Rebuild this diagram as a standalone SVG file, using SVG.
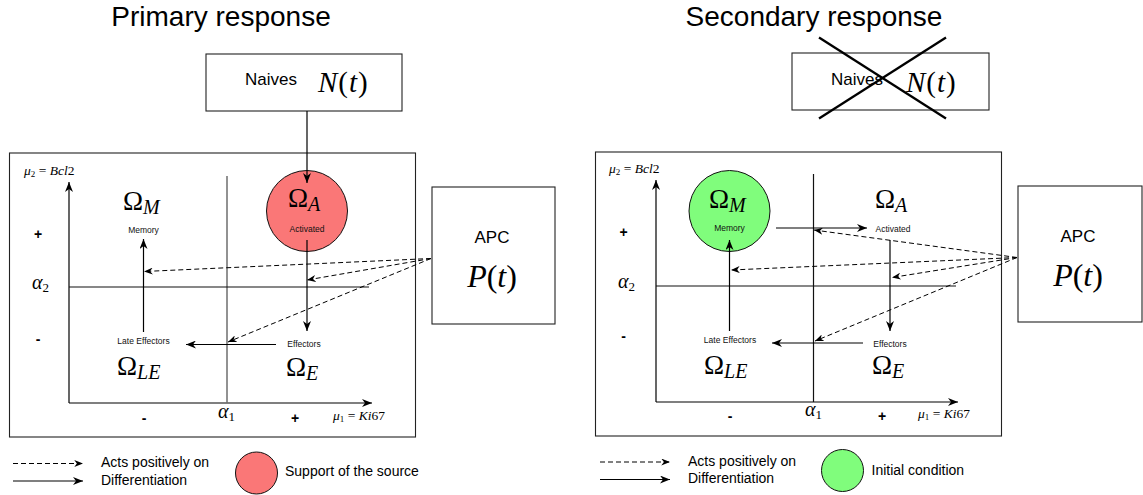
<svg xmlns="http://www.w3.org/2000/svg" width="1143" height="495" viewBox="0 0 1143 495">
  <defs>
    <marker id="ah" viewBox="0 0 10 8" refX="10" refY="4" markerWidth="10" markerHeight="8" markerUnits="userSpaceOnUse" orient="auto">
      <path d="M0,0 L10,4 L0,8 L3,4 Z" fill="#000"/>
    </marker>
    <marker id="ahs" viewBox="0 0 10 8" refX="10" refY="4" markerWidth="9" markerHeight="7" markerUnits="userSpaceOnUse" orient="auto">
      <path d="M0,0 L10,4 L0,8 L3,4 Z" fill="#000"/>
    </marker>
  </defs>
  <style>
    .box { fill: #fff; stroke: #222; stroke-width: 1.1; }
    .frame { fill: none; stroke: #222; stroke-width: 1.1; }
    .ln { stroke: #111; stroke-width: 1.2; fill: none; }
    .gr { stroke: #6e6e6e; stroke-width: 1.5; fill: none; }
    .arr { stroke: #000; stroke-width: 1.2; fill: none; marker-end: url(#ah); }
    .dash { stroke: #000; stroke-width: 1; fill: none; stroke-dasharray: 5 3; marker-end: url(#ahs); }
    .title { font-family: "Liberation Sans", Arial, sans-serif; font-size: 28px; fill: #000; text-anchor: middle; }
    .sans { font-family: "Liberation Sans", Arial, sans-serif; fill: #000; }
    .lbl { font-family: "Liberation Sans", Arial, sans-serif; font-size: 8.5px; fill: #111; text-anchor: middle; }
    .sign { font-family: "Liberation Sans", Arial, sans-serif; font-size: 14px; font-weight: bold; fill: #000; text-anchor: middle; }
    .m { font-family: "Liberation Serif", "Times New Roman", serif; fill: #000; }
    .it { font-style: italic; }
    .om { font-family: "Liberation Serif", "Times New Roman", serif; font-size: 27px; fill: #000; }
    .sub { font-style: italic; font-size: 20px; }
    .red { fill: #fa7777; stroke: #111; stroke-width: 1; }
    .green { fill: #80fd7c; stroke: #111; stroke-width: 1; }
  </style>

  <!-- headings -->
  <text class="title" x="221" y="26">Primary response</text>
  <text class="title" x="814" y="26">Secondary response</text>

  <!-- ===================== primary response ===================== -->
  <g id="primary-frame">
    <rect class="frame" x="9.5" y="153" width="406" height="284"/>
  </g>

  <g id="primary-axes">
    <line class="arr" x1="69" y1="403" x2="69" y2="182"/>
    <line class="arr" x1="69" y1="403" x2="372" y2="403"/>
    <line class="gr" x1="227" y1="176" x2="227" y2="403"/>
    <line class="ln" x1="69" y1="287" x2="369" y2="287"/>
    <text class="m it" x="24" y="175" font-size="13.5">μ<tspan font-size="9" dy="2" font-style="normal">2</tspan><tspan dy="-2" font-style="normal"> = </tspan>Bcl<tspan font-style="normal">2</tspan></text>
    <text class="m it" x="333" y="420" font-size="13.5">μ<tspan font-size="9" dy="2" font-style="normal">1</tspan><tspan dy="-2" font-style="normal"> = </tspan>Ki<tspan font-style="normal">67</tspan></text>
    <text class="sign" x="38" y="239">+</text>
    <text class="sign" x="38" y="344">-</text>
    <text class="sign" x="144" y="423">-</text>
    <text class="sign" x="295" y="423">+</text>
    <text class="m it" x="32" y="289" font-size="20">α<tspan font-size="13" dy="3" font-style="normal">2</tspan></text>
    <text class="m it" x="218" y="418" font-size="20">α<tspan font-size="13" dy="3" font-style="normal">1</tspan></text>
  </g>

  <g id="p-naives">
    <rect class="box" x="206" y="54" width="196" height="57"/>
    <text class="sans" x="245" y="85" font-size="17">Naives</text>
    <text class="m" x="318" y="92" font-size="29"><tspan class="it">N</tspan><tspan dx="1">(</tspan><tspan class="it" dx="1">t</tspan><tspan dx="1">)</tspan></text>
  </g>

  <g id="p-activated">
    <circle class="red" cx="307" cy="211" r="40.5"/>
    <text class="om" x="288" y="207">Ω<tspan class="sub" dy="4">A</tspan></text>
    <text class="lbl" x="307" y="231.5">Activated</text>
  </g>

  <g id="p-memory">
    <text class="om" x="123" y="210">Ω<tspan class="sub" dy="4">M</tspan></text>
    <text class="lbl" x="143.5" y="232.5">Memory</text>
  </g>

  <g id="p-effectors">
    <text class="lbl" x="304" y="347">Effectors</text>
    <text class="om" x="286" y="376">Ω<tspan class="sub" dy="4">E</tspan></text>
  </g>

  <g id="p-late-effectors">
    <text class="lbl" x="143.5" y="344">Late Effectors</text>
    <text class="om" x="117" y="375">Ω<tspan class="sub" dy="4">LE</tspan></text>
  </g>

  <g id="p-apc">
    <rect class="box" x="432" y="187" width="123" height="137"/>
    <text class="sans" x="492" y="242.5" font-size="17" text-anchor="middle">APC</text>
    <text class="m" x="492" y="287" font-size="32" text-anchor="middle"><tspan class="it">P</tspan>(<tspan class="it">t</tspan>)</text>
  </g>

  <g id="p-connectors">
    <line class="arr" x1="307" y1="111" x2="307" y2="183"/>
    <line class="arr" x1="307" y1="240" x2="307" y2="331"/>
    <line class="arr" x1="276" y1="344.5" x2="186" y2="344.5"/>
    <line class="arr" x1="143.5" y1="332" x2="143.5" y2="239"/>
    <line class="dash" x1="431" y1="258.5" x2="144" y2="271.5"/>
    <line class="dash" x1="431" y1="258.5" x2="307" y2="280"/>
    <line class="dash" x1="431" y1="258.5" x2="228" y2="342"/>
  </g>

  <g id="p-legend">
    <line class="dash" x1="13" y1="463.5" x2="83" y2="463.5" stroke-dasharray="5 4"/>
    <line class="arr" x1="13" y1="481" x2="83" y2="481"/>
    <text class="sans" x="101" y="467" font-size="14">Acts positively on</text>
    <text class="sans" x="101" y="484.5" font-size="14">Differentiation</text>
    <circle class="red" cx="256.5" cy="473" r="21"/>
    <text class="sans" x="285" y="476" font-size="14">Support of the source</text>
  </g>

  <!-- ===================== secondary response ===================== -->
  <g id="secondary-frame">
    <rect class="frame" x="595.5" y="152" width="406" height="284"/>
  </g>

  <g id="secondary-axes">
    <line class="arr" x1="656" y1="402" x2="656" y2="180"/>
    <line class="arr" x1="656" y1="402" x2="958" y2="402"/>
    <line class="ln" x1="813.5" y1="174" x2="813.5" y2="402"/>
    <line class="ln" x1="656" y1="286" x2="956" y2="286"/>
    <text class="m it" x="609" y="173" font-size="13.5">μ<tspan font-size="9" dy="2" font-style="normal">2</tspan><tspan dy="-2" font-style="normal"> = </tspan>Bcl<tspan font-style="normal">2</tspan></text>
    <text class="m it" x="918" y="418" font-size="13.5">μ<tspan font-size="9" dy="2" font-style="normal">1</tspan><tspan dy="-2" font-style="normal"> = </tspan>Ki<tspan font-style="normal">67</tspan></text>
    <text class="sign" x="623.5" y="237">+</text>
    <text class="sign" x="623.5" y="341">-</text>
    <text class="sign" x="730" y="421">-</text>
    <text class="sign" x="882" y="421">+</text>
    <text class="m it" x="618" y="288" font-size="20">α<tspan font-size="13" dy="3" font-style="normal">2</tspan></text>
    <text class="m it" x="805" y="416" font-size="20">α<tspan font-size="13" dy="3" font-style="normal">1</tspan></text>
  </g>

  <g id="s-naives">
    <rect class="box" x="792" y="53" width="197" height="57"/>
    <text class="sans" x="831" y="85" font-size="17">Naives</text>
    <text class="m" x="906" y="92" font-size="29"><tspan class="it">N</tspan><tspan dx="1">(</tspan><tspan class="it" dx="1">t</tspan><tspan dx="1">)</tspan></text>
    <line x1="819" y1="37.5" x2="946" y2="118.5" stroke="#000" stroke-width="2.3"/>
    <line x1="946" y1="37.5" x2="819" y2="118.5" stroke="#000" stroke-width="2.3"/>
  </g>

  <g id="s-memory">
    <circle class="green" cx="729.5" cy="211" r="40.5"/>
    <text class="om" x="709" y="208">Ω<tspan class="sub" dy="4">M</tspan></text>
    <text class="lbl" x="729.5" y="230.5">Memory</text>
  </g>

  <g id="s-activated">
    <text class="om" x="875" y="208">Ω<tspan class="sub" dy="4">A</tspan></text>
    <text class="lbl" x="893" y="231.5">Activated</text>
  </g>

  <g id="s-effectors">
    <text class="lbl" x="890" y="346.5">Effectors</text>
    <text class="om" x="872" y="374">Ω<tspan class="sub" dy="4">E</tspan></text>
  </g>

  <g id="s-late-effectors">
    <text class="lbl" x="730" y="343">Late Effectors</text>
    <text class="om" x="704" y="374">Ω<tspan class="sub" dy="4">LE</tspan></text>
  </g>

  <g id="s-apc">
    <rect class="box" x="1018" y="186" width="124" height="136"/>
    <text class="sans" x="1078" y="241.5" font-size="17" text-anchor="middle">APC</text>
    <text class="m" x="1078" y="285.5" font-size="32" text-anchor="middle"><tspan class="it">P</tspan>(<tspan class="it">t</tspan>)</text>
  </g>

  <g id="s-connectors">
    <line class="arr" x1="776" y1="228" x2="867" y2="228"/>
    <line class="arr" x1="890" y1="240" x2="890" y2="331"/>
    <line class="arr" x1="863" y1="343" x2="772" y2="343"/>
    <line class="arr" x1="729.5" y1="331" x2="729.5" y2="240"/>
    <line class="dash" x1="1017" y1="257.5" x2="814" y2="230"/>
    <line class="dash" x1="1017" y1="257.5" x2="731" y2="270"/>
    <line class="dash" x1="1017" y1="257.5" x2="892" y2="277.5"/>
    <line class="dash" x1="1017" y1="257.5" x2="815" y2="341"/>
  </g>

  <g id="s-legend">
    <line class="dash" x1="600" y1="462" x2="670" y2="462" stroke-dasharray="5 4"/>
    <line class="arr" x1="600" y1="479.5" x2="670" y2="479.5"/>
    <text class="sans" x="688" y="465.5" font-size="14">Acts positively on</text>
    <text class="sans" x="688" y="483" font-size="14">Differentiation</text>
    <circle class="green" cx="842.5" cy="470.5" r="21"/>
    <text class="sans" x="871.5" y="474.5" font-size="14">Initial condition</text>
  </g>
</svg>
